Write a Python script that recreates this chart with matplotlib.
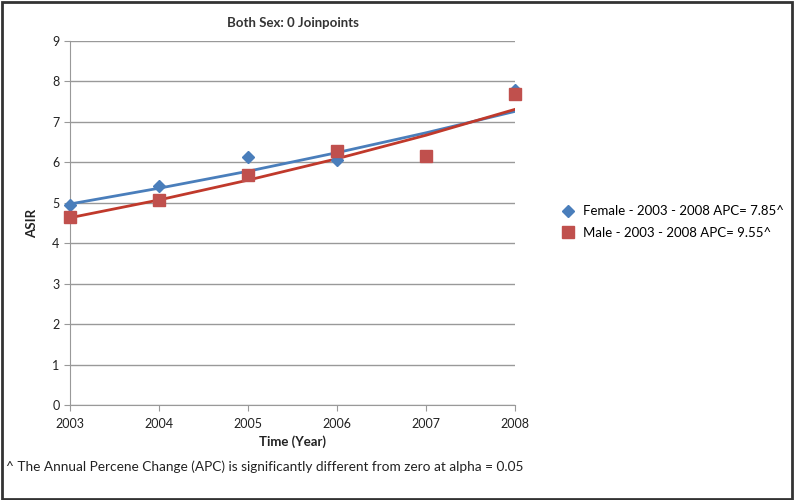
import matplotlib.pyplot as plt
from matplotlib.patches import Rectangle

plt.rcParams['font.family'] = ['Lato', 'DejaVu Sans']

years = [2003, 2004, 2005, 2006, 2007, 2008]

# observed rates
female_years = [2003, 2004, 2005, 2006, 2008]
female_asir = [4.95, 5.42, 6.12, 6.07, 7.78]
male_years = [2003, 2004, 2005, 2006, 2007, 2008]
male_asir = [4.65, 5.07, 5.69, 6.27, 6.16, 7.68]

# modelled (0 joinpoint) values
female_fit = [4.97, 5.36, 5.78, 6.24, 6.73, 7.26]
male_fit = [4.63, 5.07, 5.56, 6.09, 6.67, 7.31]

blue = '#4a7ebb'
red = '#c0504d'

fig = plt.figure(figsize=(7.94, 5.0), dpi=100)
ax = fig.add_axes([0.0882, 0.19, 0.5604, 0.728])

ax.plot(years, female_fit, color=blue, lw=2, zorder=3)
ax.plot(years, male_fit, color='#c0392b', lw=2, zorder=3)
ax.plot(female_years, female_asir, linestyle='none', marker='D', ms=6,
        color=blue, zorder=4, clip_on=False,
        label='Female - 2003 - 2008 APC= 7.85^')
ax.plot(male_years, male_asir, linestyle='none', marker='s', ms=8.5,
        color=red, zorder=4, clip_on=False,
        label='Male - 2003 - 2008 APC= 9.55^')

ax.set_xlim(2003, 2008)
ax.set_ylim(0, 9)
ax.set_xticks(years)
ax.set_yticks(range(0, 10))
ax.yaxis.grid(True, color='#999999', lw=1)
ax.set_axisbelow(True)
for s in ['top', 'right']:
    ax.spines[s].set_visible(False)
for s in ['left', 'bottom']:
    ax.spines[s].set_color('#999999')
ax.tick_params(axis='both', colors='#999999', labelcolor='#222222',
               labelsize=9, length=4)
ax.tick_params(axis='x', pad=5)

ax.set_title('Both Sex: 0 Joinpoints', fontsize=9.5, fontweight='bold',
             color='#333333', pad=10)
ax.set_xlabel('Time (Year)', fontsize=9.5, fontweight='bold', color='#222222')
ax.set_ylabel('ASIR', fontsize=9.5, fontweight='bold', color='#222222',
              labelpad=10)

fig.legend(loc='center left', bbox_to_anchor=(0.69, 0.556), frameon=False,
           fontsize=9.5, handletextpad=0.6, labelspacing=0.7, handlelength=1.2)

fig.text(0.007, 0.058,
         '^ The Annual Percene Change (APC) is significantly different from zero at alpha = 0.05',
         fontsize=9.8, color='#222222')

fig.patches.append(Rectangle((0.002, 0.003), 0.996, 0.994, transform=fig.transFigure,
                             fill=False, edgecolor='#333333', lw=2))

fig.savefig('out.png', dpi=100)
